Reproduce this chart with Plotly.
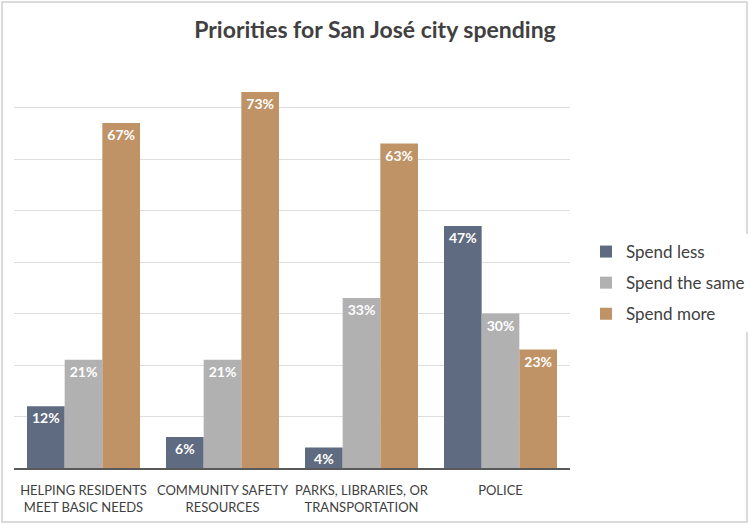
import plotly.graph_objects as go

categories = ["HELPING RESIDENTS<br>MEET BASIC NEEDS", "COMMUNITY SAFETY<br>RESOURCES",
              "PARKS, LIBRARIES, OR<br>TRANSPORTATION", "POLICE"]
spend_less = [12, 6, 4, 47]
spend_same = [21, 21, 33, 30]
spend_more = [67, 73, 63, 23]

series = [("Spend less", spend_less, "#5f6b80"),
          ("Spend the same", spend_same, "#b1b1b1"),
          ("Spend more", spend_more, "#bf9366")]

fig = go.Figure()
for name, vals, col in series:
    fig.add_trace(go.Bar(
        x=categories, y=vals, name=name, legendgroup=name,
        marker=dict(color=col, line=dict(width=0)),
        text=[f"{v}%" for v in vals], textposition="inside",
        insidetextanchor="end", textangle=0,
        textfont=dict(family="Lato", size=14, color="white", weight="bold"),
        cliponaxis=False,
    ))

W, H = 750, 525
l, r, t, b = 14, 180, 56, 57
pw, ph = W - l - r, H - t - b

fig.update_layout(
    width=W, height=H,
    margin=dict(l=l, r=r, t=t, b=b, autoexpand=False),
    paper_bgcolor="white", plot_bgcolor="white",
    barmode="group", bargap=0.187, bargroupgap=0,
    uniformtext=dict(minsize=14, mode="show"),
    title=dict(text="<b>Priorities for San José city spending</b>",
               x=0.5, xanchor="center", y=1 - 30 / H, yanchor="middle",
               font=dict(family="Lato", size=23, color="#404040")),
    font=dict(family="Lato", color="#404040"),
    legend=dict(x=(586 - l) / pw, y=(468 - 283) / ph, xanchor="left", yanchor="middle",
                font=dict(family="Lato", size=17, color="#404040"),
                traceorder="grouped", itemwidth=30, tracegroupgap=6),
    xaxis=dict(showline=True, linecolor="#595959", linewidth=1.5,
               tickfont=dict(family="Lato", size=13, color="#404040"),
               ticks="", showgrid=False, ticklabelstandoff=10),
    yaxis=dict(range=[0, 80], dtick=10, showticklabels=False, showgrid=True,
               gridcolor="#dedede", gridwidth=1, zeroline=False, ticks=""),
    shapes=[dict(type="rect", xref="paper", yref="paper",
                 x0=(2 - l) / pw, x1=(747 - l) / pw,
                 y0=(468 - 522) / ph, y1=(468 - 2) / ph,
                 line=dict(color="#d0d0d0", width=1.5), layer="below")],
)

fig.write_html("out.html")
